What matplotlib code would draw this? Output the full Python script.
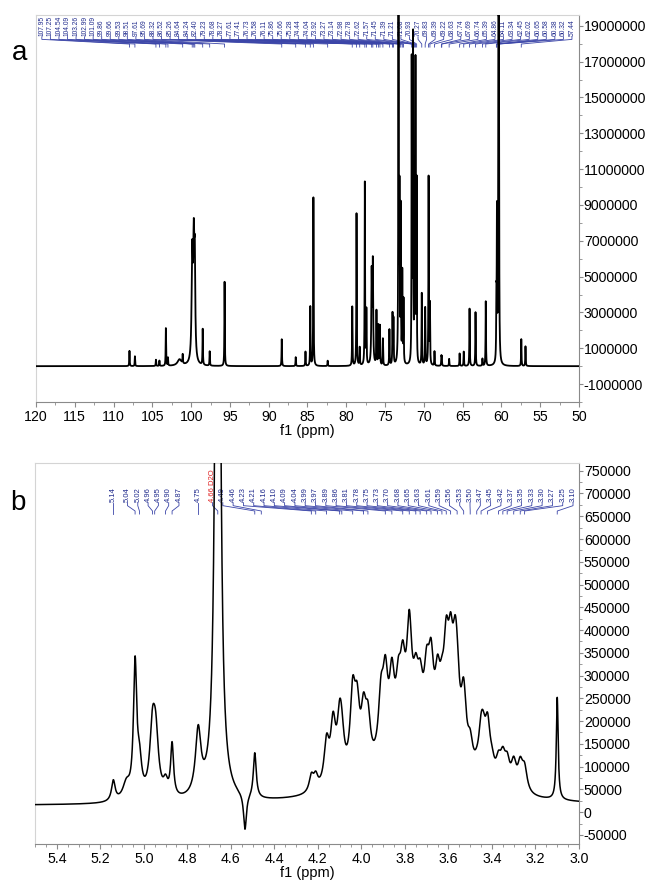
import numpy as np
import matplotlib.pyplot as plt
from matplotlib.ticker import MultipleLocator, FixedLocator, FuncFormatter

plt.rcParams['font.family'] = ['Liberation Sans', 'DejaVu Sans']

# ---------------- panel a : 13C spectrum ----------------
c13_label_ppm = [107.95, 107.25, 104.54, 104.09, 103.26, 102.99, 101.09, 99.86, 99.66, 99.53,
                 98.51, 97.61, 95.69, 88.32, 86.52, 85.26, 84.64, 84.24, 82.40, 79.23,
                 78.68, 78.27, 77.61, 77.41, 76.73, 76.58, 76.11, 75.86, 75.66, 75.28,
                 74.44, 74.04, 73.92, 73.27, 73.14, 72.98, 72.78, 72.62, 71.57, 71.45,
                 71.39, 71.21, 71.08, 70.93, 70.27, 69.83, 69.39, 69.22, 68.63, 67.74,
                 67.69, 66.74, 65.39, 64.86, 64.11, 63.34, 62.45, 62.02, 60.65, 60.58,
                 60.38, 60.32, 57.44]

# spectral lines: position (ppm), height, half width (ppm)
c13_line_ppm = [107.95, 107.25, 104.54, 104.09, 103.26, 102.99, 101.50, 101.09,
                99.86, 99.66, 99.53, 98.51, 97.61, 95.69, 88.32, 86.52, 85.26,
                84.64, 84.24, 82.40, 79.23, 78.68, 78.27, 77.61, 77.41, 76.73, 76.58,
                76.11, 75.86, 75.66, 75.28, 74.44, 74.04, 73.92, 73.27, 73.14, 72.98,
                72.78, 72.62, 71.57, 71.45, 71.39, 71.21, 71.08, 70.93, 70.27, 69.83,
                69.39, 69.22, 68.63, 67.74, 67.69, 66.74, 65.39, 64.86, 64.11, 63.34,
                62.45, 62.02, 60.65, 60.58, 60.38, 60.32, 57.44, 56.90]
c13_line_height = [0.85e6, 0.55e6, 0.35e6, 0.30e6, 2.1e6, 0.45e6, 0.35e6, 0.5e6,
                   5.8e6, 6.2e6, 4.8e6, 2.0e6, 0.8e6, 4.7e6, 1.5e6, 0.5e6, 0.8e6,
                   3.3e6, 9.4e6, 0.3e6, 3.3e6, 8.5e6, 1.0e6, 10.2e6, 3.0e6, 5.0e6, 5.6e6,
                   3.0e6, 2.2e6, 2.2e6, 1.5e6, 2.0e6, 2.8e6, 2.5e6, 25e6, 9.0e6, 8.5e6,
                   5.0e6, 3.5e6, 16.5e6, 11.0e6, 16.5e6, 10.5e6, 16.5e6, 10.0e6, 4.0e6, 3.2e6,
                   10.5e6, 3.3e6, 0.8e6, 0.5e6, 0.4e6, 0.4e6, 0.7e6, 0.8e6, 3.2e6, 3.0e6,
                   0.4e6, 3.6e6, 3.0e6, 8.0e6, 25e6, 15e6, 1.5e6, 1.1e6]
c13_line_width = [0.03, 0.03, 0.03, 0.03, 0.03, 0.03, 0.30, 0.03,
                  0.09, 0.09, 0.07, 0.03, 0.03, 0.03, 0.03, 0.03, 0.03,
                  0.03, 0.03, 0.03, 0.03, 0.03, 0.03, 0.03, 0.03, 0.05, 0.05,
                  0.03, 0.03, 0.03, 0.03, 0.03, 0.03, 0.03, 0.03, 0.03, 0.03,
                  0.03, 0.03, 0.025, 0.025, 0.025, 0.025, 0.025, 0.025, 0.03, 0.03,
                  0.03, 0.03, 0.03, 0.03, 0.03, 0.03, 0.03, 0.03, 0.03, 0.03,
                  0.03, 0.03, 0.03, 0.03, 0.03, 0.03, 0.03, 0.03]

# ---------------- panel b : 1H spectrum ----------------
h1_label_ppm = [5.14, 5.04, 5.02, 4.96, 4.95, 4.90, 4.87, 4.75, 4.66, 4.49,
                4.46, 4.23, 4.21, 4.16, 4.10, 4.09, 4.04, 3.99, 3.97, 3.89,
                3.86, 3.81, 3.78, 3.75, 3.73, 3.70, 3.68, 3.65, 3.63, 3.61,
                3.59, 3.56, 3.53, 3.50, 3.47, 3.45, 3.42, 3.37, 3.35, 3.33,
                3.30, 3.27, 3.25, 3.10]
h1_solvent = {4.66: 'D2O'}
h1_baseline = 14000

h1_line_ppm = [5.14, 5.08, 5.04, 5.02, 4.96, 4.945, 4.90, 4.87, 4.75, 4.66,
               4.535, 4.49, 4.23, 4.21, 4.16, 4.13, 4.10, 4.09, 4.04, 4.02,
               3.99, 3.97, 3.91, 3.89, 3.86, 3.83, 3.81, 3.78, 3.75, 3.73,
               3.70, 3.68, 3.65, 3.63, 3.61, 3.59, 3.57, 3.56, 3.53, 3.50,
               3.47, 3.45, 3.44, 3.42, 3.40, 3.37, 3.35, 3.33, 3.30, 3.27,
               3.25, 3.10, 3.75]
h1_line_height = [45e3, 35e3, 290e3, 70e3, 140e3, 120e3, 30e3, 115e3, 140e3, 2500e3,
                  -80e3, 100e3, 35e3, 30e3, 95e3, 125e3, 115e3, 65e3, 170e3, 130e3,
                  115e3, 100e3, 125e3, 155e3, 145e3, 105e3, 135e3, 225e3, 95e3, 90e3,
                  120e3, 150e3, 120e3, 75e3, 190e3, 180e3, 160e3, 115e3, 150e3, 55e3,
                  10e3, 80e3, 60e3, 110e3, 30e3, 45e3, 55e3, 50e3, 55e3, 55e3,
                  50e3, 225e3, 130e3]
h1_line_width = [0.01, 0.02, 0.009, 0.012, 0.015, 0.015, 0.012, 0.008, 0.015, 0.01,
                 0.008, 0.008, 0.012, 0.012, 0.014, 0.014, 0.014, 0.014, 0.014, 0.014,
                 0.014, 0.014, 0.014, 0.014, 0.014, 0.014, 0.014, 0.014, 0.014, 0.014,
                 0.014, 0.014, 0.014, 0.014, 0.014, 0.014, 0.014, 0.014, 0.014, 0.014,
                 0.014, 0.014, 0.014, 0.014, 0.014, 0.014, 0.014, 0.014, 0.014, 0.014,
                 0.014, 0.005, 0.18]


def lorentz(x, centers, heights, widths):
    y = np.zeros_like(x)
    for c, h, w in zip(centers, heights, widths):
        y += h * w ** 2 / ((x - c) ** 2 + w ** 2)
    return y


def spread(peak_f, sep, left, right):
    # group overlapping labels; each group is centred on its peaks, kept inside the margins
    groups = [[i] for i in range(len(peak_f))]

    def start(g):
        s = np.mean([peak_f[i] for i in g]) - (len(g) - 1) * sep / 2
        return min(max(s, left), right - (len(g) - 1) * sep)

    merged = True
    while merged:
        merged = False
        for k in range(len(groups) - 1):
            a, b = groups[k], groups[k + 1]
            if start(b) - (start(a) + (len(a) - 1) * sep) < sep - 1e-9:
                groups[k] = a + b
                del groups[k + 1]
                merged = True
                break
    pos = []
    for g in groups:
        s = start(g)
        pos += [s + j * sep for j in range(len(g))]
    return pos


def peak_labels(ax, ppm, texts, colors, xlim, sep, left, right, y_text, y_lead, fs):
    x0, x1 = xlim
    peak_f = [(x0 - p) / (x0 - x1) for p in ppm]
    pos = spread(peak_f, sep, left, right)
    for lp, pf, t, c in zip(pos, peak_f, texts, colors):
        ax.text(lp, y_text, t, rotation=90, ha='center', va='bottom', fontsize=fs,
                color=c, transform=ax.transAxes)
        ax.plot([lp, lp, pf, pf], y_lead, color='#3b45a8', lw=0.6,
                transform=ax.transAxes, clip_on=False)


def style_axes(ax):
    ax.yaxis.tick_right()
    for s in ['top', 'left']:
        ax.spines[s].set_color('#d4d4d4')
    for s in ['bottom', 'right']:
        ax.spines[s].set_color('#8a8a8a')
    ax.tick_params(which='major', length=3.5, width=0.8, color='#8a8a8a', labelsize=10.2, pad=2)
    ax.tick_params(which='minor', length=2, width=0.6, color='#8a8a8a')
    ax.tick_params(axis='y', which='major', length=3, pad=0.5)
    ax.set_xlabel('f1 (ppm)', fontsize=10.5, labelpad=0)


fig = plt.figure(figsize=(6.48, 8.82), dpi=100)

# panel a
ax_a = fig.add_axes([36 / 648, 1 - 402 / 882, 543 / 648, 387 / 882])
xa = np.linspace(120, 50, 14001)
ya = lorentz(xa, c13_line_ppm, c13_line_height, c13_line_width)
ax_a.plot(xa, ya, color='black', lw=1.3, zorder=4)
ax_a.set_xlim(120, 50)
ax_a.set_ylim(-2.0e6, 19.6e6)
ax_a.xaxis.set_major_locator(MultipleLocator(5))
ax_a.xaxis.set_minor_locator(MultipleLocator(2.5))
ax_a.yaxis.set_major_locator(FixedLocator(np.arange(-1e6, 19.5e6, 2e6)))
ax_a.yaxis.set_minor_locator(MultipleLocator(1e6))
ax_a.yaxis.set_major_formatter(FuncFormatter(lambda v, p: f'{v:.0f}'))
style_axes(ax_a)
peak_labels(ax_a, c13_label_ppm, [f'{p:.2f}' for p in c13_label_ppm],
            ['#1f2a8c'] * len(c13_label_ppm), (120, 50), 8.55 / 543, 0.012, 0.987,
            0.945, [0.944, 0.937, 0.925, 0.917], 4.8)
fig.text(20 / 648, 1 - 53 / 882, 'a', fontsize=20, ha='center', va='center')

# panel b
ax_b = fig.add_axes([35 / 648, 1 - 844 / 882, 544 / 648, 381 / 882])
xb = np.linspace(5.5, 3.0, 5001)
yb = h1_baseline + lorentz(xb, h1_line_ppm, h1_line_height, h1_line_width)
ax_b.plot(xb, yb, color='black', lw=1.1, zorder=4)
ax_b.set_xlim(5.5, 3.0)
ax_b.set_ylim(-70000, 767000)
ax_b.xaxis.set_major_locator(MultipleLocator(0.2))
ax_b.xaxis.set_minor_locator(MultipleLocator(0.05))
ax_b.xaxis.set_major_formatter(FuncFormatter(lambda v, p: f'{v:.1f}'))
ax_b.yaxis.set_major_locator(MultipleLocator(50000))
ax_b.yaxis.set_minor_locator(MultipleLocator(25000))
ax_b.yaxis.set_major_formatter(FuncFormatter(lambda v, p: f'{v:.0f}'))
style_axes(ax_b)
h1_texts = [f'{p:.2f}' + (' ' + h1_solvent[p] if p in h1_solvent else '') for p in h1_label_ppm]
h1_colors = ['#e02020' if p in h1_solvent else '#1f2a8c' for p in h1_label_ppm]
peak_labels(ax_b, h1_label_ppm, h1_texts, h1_colors, (5.5, 3.0), 10.3 / 544, 0.0, 0.989,
            0.898, [0.896, 0.888, 0.874, 0.866], 5.5)
fig.text(18 / 648, 1 - 503 / 882, 'b', fontsize=20, ha='center', va='center')

fig.savefig('out.png', dpi=100)
